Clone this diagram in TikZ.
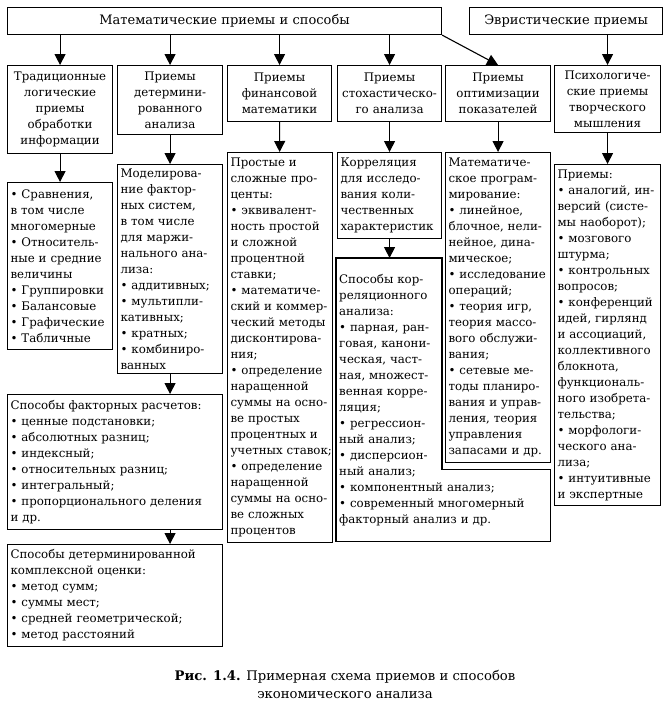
\documentclass[tikz,border=0pt]{standalone}
\usepackage{fontspec}
\setmainfont{DejaVu Serif}
\usepackage{tikz}
\usetikzlibrary{arrows.meta}

\tikzset{
    txt/.style={anchor=north west,align=left,inner xsep=3pt,inner ysep=3pt,
        font=\fontsize{11.8}{16}\selectfont},
    box/.style={txt,draw,line width=1.1pt},
    head/.style={box,align=center},
    arr/.style={line width=1.1pt,-{Triangle[width=11pt,length=11pt]}},
}

\begin{document}
\begin{tikzpicture}[x=1pt,y=-1pt]
    \useasboundingbox (0,0) rectangle (672,710);

    \node[head,text width=428,minimum height=27,font=\fontsize{13}{16}\selectfont] (top) at (7,7) {Математические приемы и способы};
    \node[head,text width=187,minimum height=27,font=\fontsize{13}{16}\selectfont] (heur) at (469,7) {Эвристические приемы};

    \node[head,text width=99,minimum height=88] (h1) at (7,65) {Традиционные\\логические\\приемы\\обработки\\информации};
    \node[head,text width=99,minimum height=69] (h2) at (117,65) {Приемы\\детермини-\\рованного\\анализа};
    \node[head,text width=98,minimum height=56] (h3) at (227,65) {Приемы\\финансовой\\математики};
    \node[head,text width=98,minimum height=56] (h4) at (337,65) {Приемы\\стохастическо-\\го анализа};
    \node[head,text width=99,minimum height=56] (h5) at (445,65) {Приемы\\оптимизации\\показателей};
    \node[head,text width=100,minimum height=67] (h6) at (554,65) {Психологиче-\\ские приемы\\творческого\\мышления};

    \node[box,text width=99,minimum height=167] (l1) at (7,182) {• Сравнения,\\в том числе\\многомерные\\• Относитель-\\ные и средние\\величины\\• Группировки\\• Балансовые\\• Графические\\• Табличные};
    \node[box,text width=99,minimum height=209] (l2) at (117,164) {Моделирова-\\ние фактор-\\ных систем,\\в том числе\\для маржи-\\нального ана-\\лиза:\\• аддитивных;\\• мультипли-\\кативных;\\• кратных;\\• комбиниро-\\ванных};
    \node[box,text width=209,minimum height=135] (fact) at (7,394) {Способы факторных расчетов:\\• ценные подстановки;\\• абсолютных разниц;\\• индексный;\\• относительных разниц;\\• интегральный;\\• пропорционального деления\\и др.};
    \node[box,text width=209,minimum height=102] (cplx) at (7,544) {Способы детерминированной\\комплексной оценки:\\• метод сумм;\\• суммы мест;\\• средней геометрической;\\• метод расстояний};

    \node[box,text width=99,minimum height=390] (l3) at (227,152) {Простые и\\сложные про-\\центы:\\• эквивалент-\\ность простой\\и сложной\\процентной\\ставки;\\• математиче-\\ский и коммер-\\ческий методы\\дисконтирова-\\ния;\\• определение\\наращенной\\суммы на осно-\\ве простых\\процентных и\\учетных~ставок;\\• определение\\наращенной\\суммы на осно-\\ве сложных\\процентов};

    \node[box,text width=98,minimum height=86] (c4) at (337,152) {Корреляция\\для исследо-\\вания коли-\\чественных\\характеристик};
    \node[txt,text width=208,minimum height=283] (s4) at (336,258) {Способы кор-\\реляционного\\анализа:\\• парная, ран-\\говая, канони-\\ческая, част-\\ная, множест-\\венная корре-\\ляция;\\• регрессион-\\ный анализ;\\• дисперсион-\\ный анализ;\\• компонентный анализ;\\• современный многомерный\\факторный анализ и др.};

    \node[box,text width=99,minimum height=310] (l5) at (445,152) {Математиче-\\ское програм-\\мирование:\\• линейное,\\блочное, нели-\\нейное, дина-\\мическое;\\• исследование\\операций;\\• теория игр,\\теория массо-\\вого обслужи-\\вания;\\• сетевые ме-\\тоды планиро-\\вания и управ-\\ления, теория\\управления\\запасами и др.};
    \node[box,text width=100,minimum height=341] (l6) at (554,164) {Приемы:\\• аналогий, ин-\\версий (систе-\\мы наоборот);\\• мозгового\\штурма;\\• контрольных\\вопросов;\\• конференций\\идей, гирлянд\\и ассоциаций,\\коллективного\\блокнота,\\функциональ-\\ного изобрета-\\тельства;\\• морфологи-\\ческого ана-\\лиза;\\• интуитивные\\и экспертные};

    \draw[line width=1.1pt] (s4.north west) -| ([shift={(-3,6)}]l5.south west) -| (s4.south east) -- (s4.south west) -- cycle;

    \draw[arr] (h1.north |- top.south) -- (h1.north);
    \draw[arr] (h2.north |- top.south) -- (h2.north);
    \draw[arr] (h3.north |- top.south) -- (h3.north);
    \draw[arr] (h4.north |- top.south) -- (h4.north);
    \draw[arr] (top.south east) -- (h5.north);
    \draw[arr] (h6.north |- heur.south) -- (h6.north);

    \draw[arr] (h1) -- (l1);
    \draw[arr] (h2) -- (l2);
    \draw[arr] (h3) -- (l3);
    \draw[arr] (h4) -- (c4);
    \draw[arr] (c4) -- (c4.south |- s4.north);
    \draw[arr] (h5) -- (l5);
    \draw[arr] (h6) -- (l6);
    \draw[arr] (l2) -- (l2.south |- fact.north);
    \draw[arr] (l2.south |- fact.south) -- (l2.south |- cplx.north);

    \node[align=center,font=\fontsize{13.2}{18}\selectfont] (cap) at (345,684) {\textbf{Рис. 1.4.} Примерная схема приемов и способов\\экономического анализа};
\end{tikzpicture}
\end{document}
